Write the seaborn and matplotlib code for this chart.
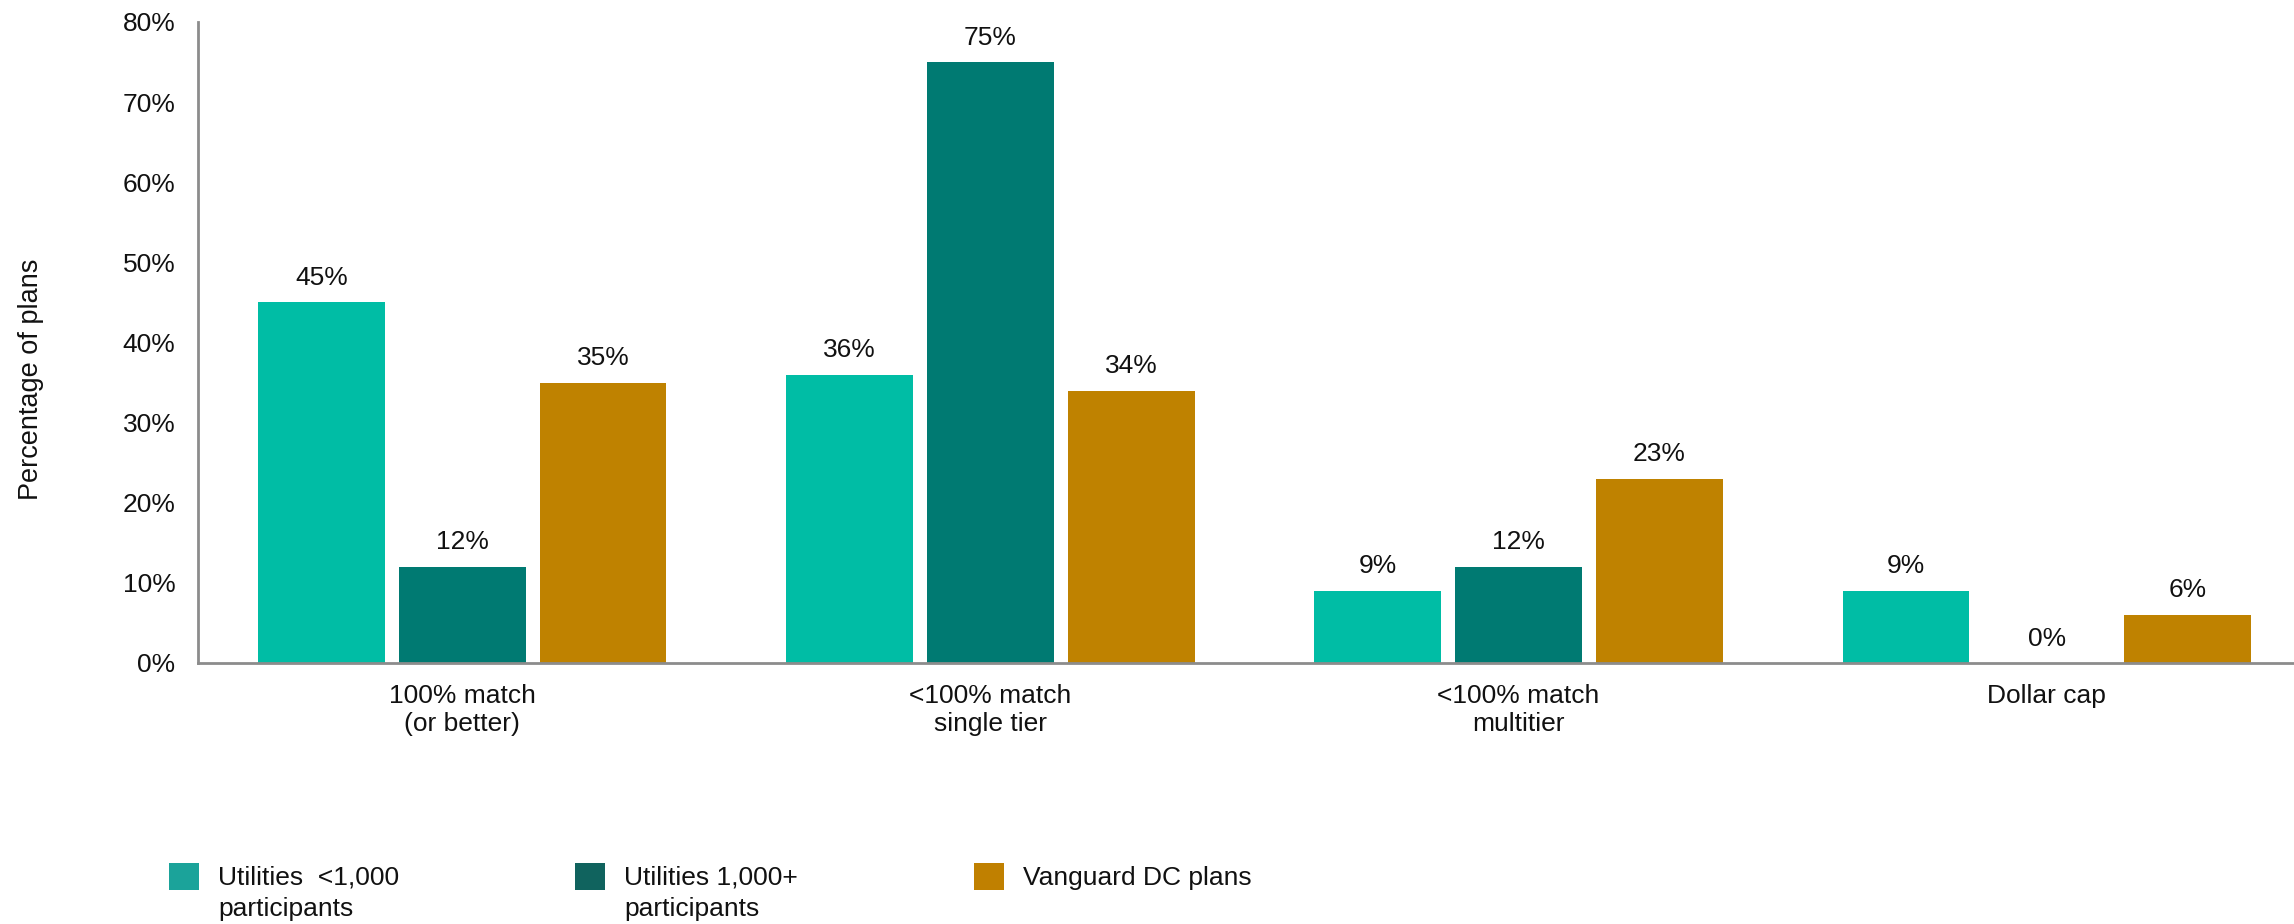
import matplotlib
matplotlib.use("Agg")
import matplotlib.pyplot as plt
from matplotlib.patches import Patch, Rectangle
from matplotlib.legend_handler import HandlerPatch
import seaborn as sns
import pandas as pd

# Plan match formulas and share of plans using each one
categories = ["100% match\n(or better)", "<100% match\nsingle tier",
              "<100% match\nmultitier", "Dollar cap"]
series_names = ["Utilities  <1,000\nparticipants", "Utilities 1,000+\nparticipants",
                "Vanguard DC plans\n"]
small_utilities = [45, 36, 9, 9]
large_utilities = [12, 75, 12, 0]
vanguard_plans = [35, 34, 23, 6]
y_ticks = [0, 10, 20, 30, 40, 50, 60, 70, 80]

bar_colors = ["#00BDA5", "#007A72", "#BF8200"]
legend_colors = ["#1BA39A", "#10635E", "#C08000"]

df = pd.DataFrame({
    "category": categories * 3,
    "series": [s for s in series_names for _ in categories],
    "value": small_utilities + large_utilities + vanguard_plans,
})

sns.set_theme(style="white")
plt.rcParams["font.family"] = ["Liberation Sans", "DejaVu Sans"]
plt.rcParams["text.color"] = "#111111"

FS = 19

fig = plt.figure(figsize=(22.94, 9.24), dpi=100)
ax = fig.add_axes([197.5 / 2294, 261 / 924, (2294 - 197.5) / 2294, (902 - 261) / 924])

sns.barplot(data=df, x="category", y="value", hue="series", order=categories,
            hue_order=series_names, palette=bar_colors, width=0.8, gap=0.1,
            saturation=1, legend=False, ax=ax, linewidth=0)

for container in ax.containers:
    ax.bar_label(container, labels=[f"{v:.0f}%" for v in container.datavalues],
                 padding=9, fontsize=FS, color="#111111")

ax.set_xlim(-0.501, 3.468)
ax.set_ylim(0, 80)
ax.set_yticks(y_ticks)
ax.set_yticklabels([f"{t}%" for t in y_ticks], fontsize=FS)
ax.tick_params(axis="y", length=0, pad=16, labelcolor="#111111")
ax.tick_params(axis="x", length=0, pad=15, labelsize=FS, labelcolor="#111111")
ax.set_xlabel("")
ax.set_ylabel("")

sns.despine(ax=ax)
for side in ("left", "bottom"):
    ax.spines[side].set_color("#8C8C8C")
    ax.spines[side].set_linewidth(2)

fig.text(31 / 2294, 1 - 379 / 924, "Percentage of plans", rotation=90,
         ha="center", va="center", fontsize=19.5, color="#111111")


def first_line_swatch(legend, orig_handle, xdescent, ydescent, width, height, fontsize):
    # put the colour swatch beside the first line of a two-line label
    return Rectangle((-xdescent, 0.48 * fontsize), width, height)


handles = [Patch(facecolor=c, edgecolor="none") for c in legend_colors]
swatch = HandlerPatch(patch_func=first_line_swatch)
leg = fig.legend(handles, series_names, ncol=3, loc="upper left",
                 bbox_to_anchor=(169 / 2294, 1 - 866 / 924), frameon=False,
                 borderpad=0, borderaxespad=0, fontsize=FS, handlelength=1.14,
                 handleheight=1.21, handletextpad=0.72, columnspacing=6.67,
                 handler_map={Patch: swatch})
for txt in leg.get_texts():
    txt.set_linespacing(1.38)

fig.savefig("out.png", dpi=100, facecolor="white")
